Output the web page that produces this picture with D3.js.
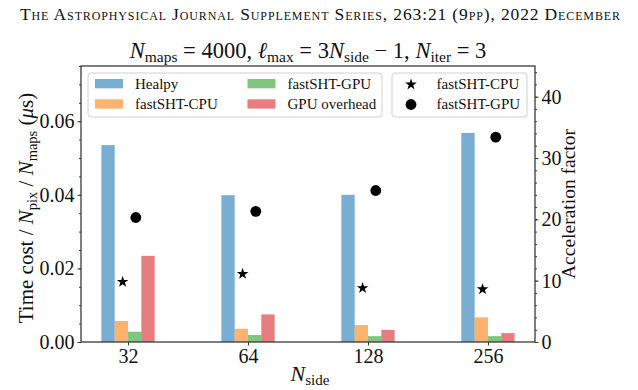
<!DOCTYPE html>
<html>
<head>
<meta charset="utf-8">
<script src="https://cdn.jsdelivr.net/npm/d3@7"></script>
<style>
  body { margin: 0; background: #fff; }
  svg text { font-family: 'Liberation Serif', serif; fill: #111; }
</style>
</head>
<body>
<svg id="chart" width="638" height="390"></svg>
<script>
(function() {
  'use strict';

  // values
  var nside = ['32', '64', '128', '256'];
  var healpy = [0.0535, 0.0399, 0.0400, 0.0568];
  var cpuCost = [0.0057, 0.0036, 0.0046, 0.0067];
  var gpuCost = [0.0028, 0.0019, 0.0016, 0.0016];
  var gpuOverhead = [0.0234, 0.0075, 0.0033, 0.0024];
  var accelCpu = [9.8, 11.1, 8.8, 8.6];
  var accelGpu = [20.3, 21.3, 24.7, 33.4];
  var costTicks = [0, 0.02, 0.04, 0.06];
  var accelTicks = [0, 10, 20, 30, 40];

  var colors = { blue: '#1f77b4', orange: '#ff7f0e', green: '#2ca02c', red: '#d62728' };

  var series = [
    { label: 'Healpy', color: colors.blue, values: healpy },
    { label: 'fastSHT-CPU', color: colors.orange, values: cpuCost },
    { label: 'fastSHT-GPU', color: colors.green, values: gpuCost },
    { label: 'GPU overhead', color: colors.red, values: gpuOverhead }
  ];

  var left = 81, right = 535, top = 66, bottom = 342;
  var barW = 0.111;
  var axisColor = '#3a3a3a';
  var serif = "'Liberation Serif', serif";

  var svg = d3.select('#chart');

  var x = d3.scaleLinear().domain([-0.392, 3.392]).range([left, right]);
  var y = d3.scaleLinear().domain([0, 0.075]).range([bottom, top]);
  var y2 = d3.scaleLinear().domain([0, 45]).range([bottom, top]);

  // journal header
  svg.append('text')
    .attr('x', 20).attr('y', 20)
    .attr('textLength', 600)
    .attr('lengthAdjust', 'spacing')
    .style('font-size', '17.5px')
    .style('font-variant', 'small-caps')
    .text('The Astrophysical Journal Supplement Series, 263:21 (9pp), 2022 December');

  // text with italic symbol + subscript
  function sub(t, base, s, size) {
    t.append('tspan').style('font-style', 'italic').text(base);
    t.append('tspan').attr('dy', 4).style('font-size', size + 'px').text(s);
    return t.append('tspan').attr('dy', -4);
  }

  var title = svg.append('text')
    .attr('x', (left + right) / 2).attr('y', 58)
    .attr('text-anchor', 'middle')
    .style('font-size', '22.5px');
  sub(title, 'N', 'maps', 15.5).text(' = 4000, ');
  sub(title, 'ℓ', 'max', 15.5).text(' = 3');
  sub(title, 'N', 'side', 15.5).text(' − 1, ');
  sub(title, 'N', 'iter', 15.5).text(' = 3');

  var plot = svg.append('g');

  // bars
  series.forEach(function(s, k) {
    plot.selectAll(null)
      .data(s.values)
      .enter().append('rect')
      .attr('x', function(d, i) { return x(i + (k - 2) * barW); })
      .attr('width', function(d, i) { return x(i + (k - 1) * barW) - x(i + (k - 2) * barW); })
      .attr('y', function(d) { return y(d); })
      .attr('height', function(d) { return y(0) - y(d); })
      .attr('fill', s.color)
      .attr('fill-opacity', 0.6);
  });

  // acceleration factors on the twin axis
  var star = d3.symbol().type(d3.symbolStar).size(42);
  plot.selectAll(null)
    .data(accelCpu)
    .enter().append('path')
    .attr('d', star)
    .attr('transform', function(d, i) { return 'translate(' + x(i - 0.045) + ',' + y2(d) + ')'; })
    .attr('fill', '#000');

  plot.selectAll(null)
    .data(accelGpu)
    .enter().append('circle')
    .attr('cx', function(d, i) { return x(i + 0.065); })
    .attr('cy', function(d) { return y2(d); })
    .attr('r', 5.4)
    .attr('fill', '#000');

  // axes
  function styleAxis(g) {
    g.attr('font-family', serif).attr('font-size', 20);
    g.select('.domain').remove();
    g.selectAll('line').attr('stroke', axisColor);
    g.selectAll('text').style('font-family', serif).style('font-size', '20px').attr('fill', '#111');
  }

  svg.append('g')
    .attr('transform', 'translate(' + left + ',0)')
    .call(d3.axisLeft(y).tickValues(d3.range(0, 0.0751, 0.005)).tickSize(2).tickFormat(''))
    .call(styleAxis);
  svg.append('g')
    .attr('transform', 'translate(' + left + ',0)')
    .call(d3.axisLeft(y).tickValues(costTicks).tickSize(3.5).tickPadding(3).tickFormat(d3.format('.2f')))
    .call(styleAxis);

  svg.append('g')
    .attr('transform', 'translate(' + right + ',0)')
    .call(d3.axisRight(y2).tickValues(d3.range(0, 45.1, 2)).tickSize(2).tickFormat(''))
    .call(styleAxis);
  svg.append('g')
    .attr('transform', 'translate(' + right + ',0)')
    .call(d3.axisRight(y2).tickValues(accelTicks).tickSize(3.5).tickPadding(3).tickFormat(d3.format('d')))
    .call(styleAxis);

  svg.append('g')
    .attr('transform', 'translate(0,' + bottom + ')')
    .call(d3.axisBottom(x).tickValues([0, 1, 2, 3]).tickSize(3.5).tickPadding(3)
      .tickFormat(function(d) { return nside[d]; }))
    .call(styleAxis);

  svg.append('rect')
    .attr('x', left).attr('y', top)
    .attr('width', right - left).attr('height', bottom - top)
    .attr('fill', 'none')
    .attr('stroke', axisColor)
    .attr('stroke-width', 1.3);

  // axis labels
  var xl = svg.append('text')
    .attr('x', 310).attr('y', 381)
    .attr('text-anchor', 'middle')
    .style('font-size', '22px');
  sub(xl, 'N', 'side', 15);

  var yl = svg.append('text')
    .attr('transform', 'translate(33,' + ((top + bottom) / 2 + 4) + ') rotate(-90)')
    .attr('text-anchor', 'middle')
    .style('font-size', '21px');
  yl.append('tspan').text('Time cost / ');
  sub(yl, 'N', 'pix', 14.5).text(' / ');
  sub(yl, 'N', 'maps', 14.5).text(' (');
  yl.append('tspan').style('font-style', 'italic').text('μ');
  yl.append('tspan').text('s)');

  svg.append('text')
    .attr('transform', 'translate(575,' + ((top + bottom) / 2) + ') rotate(-90)')
    .attr('text-anchor', 'middle')
    .style('font-size', '19.5px')
    .text('Acceleration factor');

  // bar legend
  var legend = svg.append('g');
  legend.append('rect')
    .attr('x', 88).attr('y', 73).attr('width', 294).attr('height', 44)
    .attr('rx', 3)
    .attr('fill', '#fff').attr('fill-opacity', 0.8)
    .attr('stroke', '#d0d0d0');
  series.forEach(function(s, k) {
    var col = k === 0 || k === 1 ? 0 : 1;
    var row = k === 0 || k === 2 ? 0 : 1;
    var lx = col ? 247.5 : 95;
    var ly = row ? 99.3 : 79;
    legend.append('rect')
      .attr('x', lx).attr('y', ly).attr('width', 28).attr('height', 9.3)
      .attr('fill', s.color).attr('fill-opacity', 0.6);
    legend.append('text')
      .attr('x', lx + 40).attr('y', ly + 9.5)
      .style('font-family', serif)
      .style('font-size', '15px')
      .text(s.label);
  });

  // marker legend
  var legend2 = svg.append('g');
  legend2.append('rect')
    .attr('x', 392).attr('y', 73).attr('width', 135).attr('height', 44)
    .attr('rx', 3)
    .attr('fill', '#fff').attr('fill-opacity', 0.8)
    .attr('stroke', '#d0d0d0');
  legend2.append('path')
    .attr('d', star)
    .attr('transform', 'translate(411,84.5)')
    .attr('fill', '#000');
  legend2.append('circle')
    .attr('cx', 411).attr('cy', 104.5).attr('r', 5.4)
    .attr('fill', '#000');
  ['fastSHT-CPU', 'fastSHT-GPU'].forEach(function(label, k) {
    legend2.append('text')
      .attr('x', 436.5).attr('y', 89 + k * 20)
      .style('font-family', serif)
      .style('font-size', '15px')
      .text(label);
  });
})();
</script>
</body>
</html>
